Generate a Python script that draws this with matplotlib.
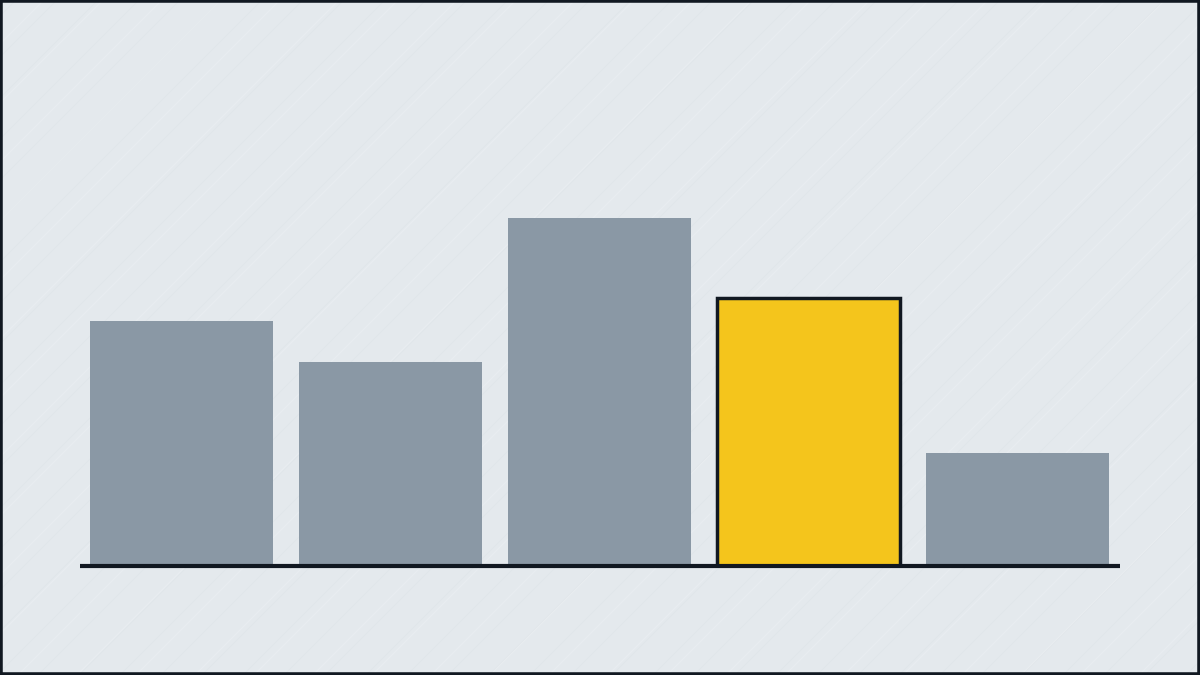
import matplotlib
matplotlib.use("Agg")
import matplotlib.pyplot as plt
import matplotlib.patches as patches
import numpy as np

# bar heights (arbitrary units)
categories = ["A", "B", "C", "D", "E"]
values = [245, 204, 348, 268, 113]
highlight = "D"

BG = "#e4e9ed"
GREY = "#8a98a5"
YELLOW = "#f4c51c"
INK = "#111821"

fig = plt.figure(figsize=(12, 6.75), dpi=100)
fig.patch.set_facecolor(BG)

# faint diagonal texture over the background
tex = fig.add_axes([0, 0, 1, 1], zorder=0)
tex.set_xlim(0, 1200)
tex.set_ylim(0, 675)
tex.axis("off")
for x0 in range(-700, 1200, 41):
    tex.plot([x0, x0 + 700], [0, 700], color="#d9dfe4", lw=0.5, alpha=0.4)
for x0 in range(-690, 1200, 59):
    tex.plot([x0, x0 + 700], [0, 700], color="#eef1f4", lw=0.8, alpha=0.5)

ax = fig.add_axes([80 / 1200, 109 / 675, 1040 / 1200, 450 / 675], zorder=1)
ax.patch.set_alpha(0)
x = np.arange(len(categories))
colors = [YELLOW if c == highlight else GREY for c in categories]
edges = [INK if c == highlight else "none" for c in categories]
lws = [2.5 if c == highlight else 0 for c in categories]
ax.bar(x, values, width=0.8756, color=colors, edgecolor=edges, linewidth=lws, zorder=2)
ax.set_xlim(-0.486, 4.49)
ax.set_ylim(0, 450)
ax.axhline(0, color=INK, lw=3, zorder=3, clip_on=False, solid_capstyle="butt")
for s in ax.spines.values():
    s.set_visible(False)
ax.set_xticks([])
ax.set_yticks([])

# dark frame around the figure
fig.patches.append(patches.Rectangle((0, 0), 1, 1, transform=fig.transFigure,
                                     fill=False, edgecolor=INK, lw=4, zorder=5))

fig.savefig("out.png", dpi=100, facecolor=BG)
